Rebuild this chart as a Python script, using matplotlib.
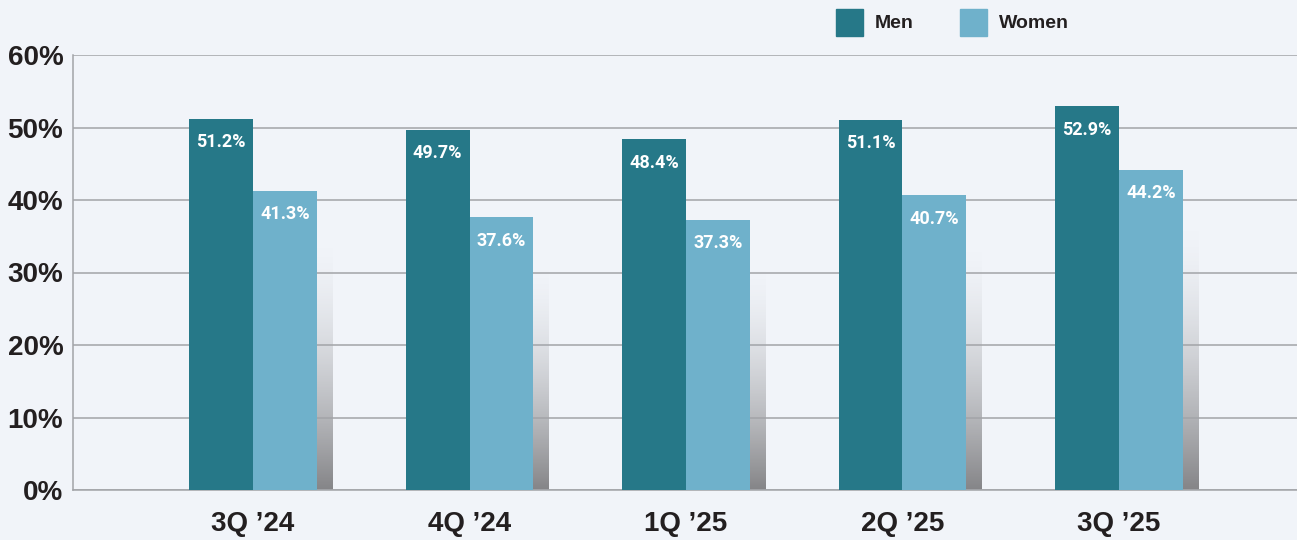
import numpy as np
import matplotlib.pyplot as plt
from matplotlib.patches import Rectangle

quarters = ["3Q ’24", "4Q ’24", "1Q ’25", "2Q ’25", "3Q ’25"]
men = [51.2, 49.7, 48.4, 51.1, 52.9]
women = [41.3, 37.6, 37.3, 40.7, 44.2]
y_ticks = [0, 10, 20, 30, 40, 50, 60]

bg = "#f1f4f9"
men_color = "#267888"
women_color = "#6fb1cb"
grid_color = "#a2a4a8"
text_color = "#231f20"

plt.rcParams['font.family'] = ['Liberation Sans', 'DejaVu Sans']

fig = plt.figure(figsize=(12.97, 5.40), dpi=100, facecolor=bg)
ax = fig.add_axes([73/1297, 50/540, 1 - 73/1297, 435/540], facecolor=bg)

x = np.arange(len(quarters))
w = 0.295
step = 216.5

# soft shadow strip to the right of each women bar, dark at the base
ramp = np.linspace(0, 1, 256)[:, None] ** 1.7
shade = np.zeros((256, 1, 4))
shade[..., :3] = np.array([0.52, 0.52, 0.53])
shade[..., 3] = ramp
for xi, v in zip(x, women):
    top = v * 0.84
    ax.imshow(shade, extent=(xi + w, xi + w + 16/step, 0, top), origin='upper',
              aspect='auto', zorder=0.5, interpolation='bilinear')

ax.bar(x - w/2, men, w, color=men_color, zorder=3)
ax.bar(x + w/2, women, w, color=women_color, zorder=3)

label_font = dict(ha='center', va='center', color='white', fontsize=13,
                  family=['Roboto', 'DejaVu Sans'], weight='bold', zorder=4)
for xi, v in zip(x, men):
    ax.annotate(f"{v:.1f}%", (xi - w/2, v), xytext=(0, -17),
                textcoords='offset points', **label_font)
for xi, v in zip(x, women):
    ax.annotate(f"{v:.1f}%", (xi + w/2, v), xytext=(0, -17),
                textcoords='offset points', **label_font)

ax.set_xlim((73 - 253) / step, (1297 - 253) / step)
ax.set_ylim(0, 60)
ax.set_yticks(y_ticks)
ax.set_yticklabels([f"{t}%" for t in y_ticks])
ax.set_xticks(x)
ax.set_xticklabels(quarters)
ax.tick_params(axis='y', length=0, pad=7, labelsize=20, labelcolor=text_color)
ax.tick_params(axis='x', length=0, pad=15, labelsize=20, labelcolor=text_color)
for lab in ax.get_xticklabels() + ax.get_yticklabels():
    lab.set_fontweight('bold')

ax.grid(axis='y', color=grid_color, linewidth=1.1, zorder=1)
ax.set_axisbelow(True)
for s in ['top', 'right']:
    ax.spines[s].set_visible(False)
for s in ['left', 'bottom']:
    ax.spines[s].set_color(grid_color)
    ax.spines[s].set_linewidth(1.1)

# legend drawn by hand: square swatches with bold labels
for lx, name, col in [(836, "Men", men_color), (960, "Women", women_color)]:
    fig.patches.append(Rectangle((lx/1297, 1 - 36/540), 27/1297, 27/540,
                                 transform=fig.transFigure, color=col))
    fig.text((lx + 39)/1297, 1 - 23/540, name, ha='left', va='center',
             fontsize=14, weight='bold', color=text_color)

fig.savefig("out.png", dpi=100, facecolor=bg)
